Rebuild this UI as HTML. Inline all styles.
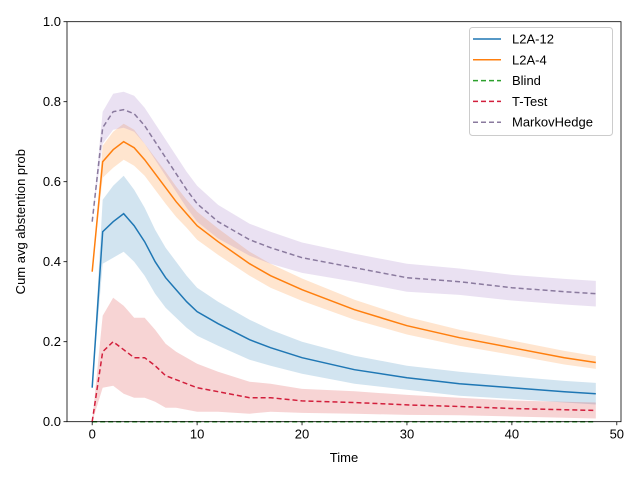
<!DOCTYPE html>
<html><head><meta charset="utf-8"><style>
body{margin:0;background:#fff;}
svg{display:block;font-family:"Liberation Sans","DejaVu Sans",sans-serif;}
</style></head><body>
<svg id="chart" width="640" height="480"></svg>
<script>
const times=[0,1,2,3,4,5,6,7,8,9,10,12,15,17,20,25,30,35,40,45,48];
const l2a12=[0.085,0.475,0.50,0.52,0.49,0.45,0.40,0.36,0.33,0.30,0.275,0.245,0.205,0.185,0.16,0.13,0.11,0.095,0.085,0.075,0.07];
const l2a12Err=[0.0,0.08,0.09,0.095,0.09,0.085,0.08,0.075,0.07,0.065,0.06,0.055,0.05,0.045,0.04,0.035,0.03,0.03,0.028,0.027,0.027];
const l2a4=[0.375,0.65,0.68,0.70,0.685,0.655,0.62,0.585,0.55,0.52,0.49,0.45,0.395,0.365,0.33,0.28,0.24,0.21,0.185,0.16,0.148];
const l2a4Err=[0.0,0.04,0.045,0.045,0.045,0.04,0.04,0.04,0.038,0.035,0.035,0.033,0.03,0.03,0.028,0.025,0.022,0.02,0.018,0.017,0.016];
const blind=[0,0,0,0,0,0,0,0,0,0,0,0,0,0,0,0,0,0,0,0,0];
const ttest=[0.0,0.175,0.20,0.18,0.16,0.16,0.14,0.115,0.105,0.095,0.085,0.075,0.06,0.06,0.052,0.048,0.042,0.038,0.033,0.03,0.028];
const ttestErr=[0.0,0.09,0.11,0.11,0.10,0.10,0.09,0.08,0.07,0.065,0.06,0.05,0.04,0.035,0.03,0.028,0.025,0.022,0.02,0.02,0.02];
const markov=[0.5,0.735,0.775,0.78,0.77,0.74,0.70,0.66,0.62,0.58,0.545,0.50,0.455,0.435,0.41,0.385,0.36,0.35,0.335,0.325,0.32];
const markovErr=[0.0,0.04,0.045,0.045,0.045,0.045,0.045,0.045,0.045,0.045,0.045,0.042,0.04,0.04,0.038,0.035,0.035,0.033,0.032,0.032,0.032];
const xTicks=[0,10,20,30,40,50];
const yTicks=[0.0,0.2,0.4,0.6,0.8,1.0];

const L=67,R=621,T=21.7,B=421.7;
const xMin=-2.4,xMax=50.4;
function X(v){return L+(v-xMin)/(xMax-xMin)*(R-L);}
function Y(v){return B-v*(B-T);}
const svg=document.getElementById('chart');
const NS='http://www.w3.org/2000/svg';
function mk(tag,attrs,parent){const e=document.createElementNS(NS,tag);for(const k in attrs)e.setAttribute(k,attrs[k]);(parent||svg).appendChild(e);return e;}

const series=[
 {name:'L2A-12',vals:l2a12,err:l2a12Err,color:'#1f77b4',band:'#1f77b4',dash:null},
 {name:'L2A-4',vals:l2a4,err:l2a4Err,color:'#ff7f0e',band:'#ff7f0e',dash:null},
 {name:'Blind',vals:blind,err:null,color:'#2ca02c',band:null,dash:'5,3'},
 {name:'T-Test',vals:ttest,err:ttestErr,color:'#d21f3c',band:'#d62728',dash:'5,3'},
 {name:'MarkovHedge',vals:markov,err:markovErr,color:'#8a7a9e',band:'#9467bd',dash:'5,3'}
];
series.forEach(s=>{
 if(!s.err)return;
 let d='';
 times.forEach((t,i)=>{d+=(i?'L':'M')+X(t)+','+Y(Math.max(0,s.vals[i]+s.err[i]));});
 for(let i=times.length-1;i>=0;i--)d+='L'+X(times[i])+','+Y(Math.max(0,s.vals[i]-s.err[i]));
 const p=mk('path',{d:d+'Z',fill:s.band,'fill-opacity':0.2,stroke:'none'});
 
 
});
series.forEach(s=>{
 const pts=times.map((t,i)=>X(t)+','+Y(s.vals[i])).join(' ');
 const a={points:pts,fill:'none',stroke:s.color,'stroke-width':1.5};
 if(s.dash)a['stroke-dasharray']=s.dash;
 const p=mk('polyline',a);
 
 
});
const frame=mk('rect',{x:L,y:T,width:R-L,height:B-T,fill:'none',stroke:'#000','stroke-width':0.8});


xTicks.forEach(v=>{
 mk('line',{x1:X(v),x2:X(v),y1:B,y2:B+3.5,stroke:'#000','stroke-width':0.8});
 const t=mk('text',{x:X(v),y:B+17,'text-anchor':'middle','font-size':13});
 t.textContent=v;
 
 
});
yTicks.forEach(v=>{
 mk('line',{x1:L-3.5,x2:L,y1:Y(v),y2:Y(v),stroke:'#000','stroke-width':0.8});
 const t=mk('text',{x:L-6,y:Y(v)+4.5,'text-anchor':'end','font-size':13});
 t.textContent=v.toFixed(1);
 
 
});
const xt=mk('text',{x:(L+R)/2,y:462,'text-anchor':'middle','font-size':13});
xt.textContent='Time';


const yt=mk('text',{x:0,y:0,'text-anchor':'middle','font-size':13,transform:'translate(25,'+((T+B)/2)+') rotate(-90)'});
yt.textContent='Cum avg abstention prob';


const lg=mk('g',{});


mk('rect',{x:469.5,y:27.5,width:143,height:108,rx:3,fill:'#fff','fill-opacity':0.8,stroke:'#ccc'},lg);
series.forEach((s,i)=>{
 const y=39+i*20.8;
 const g=mk('g',{},lg);
 
 
 const a={x1:473,x2:501,y1:y,y2:y,stroke:s.color,'stroke-width':1.5};
 if(s.dash)a['stroke-dasharray']=s.dash;
 mk('line',a,g);
 const t=mk('text',{x:512,y:y+4.5,'font-size':13},g);
 t.textContent=s.name;
});
</script>
</body></html>
